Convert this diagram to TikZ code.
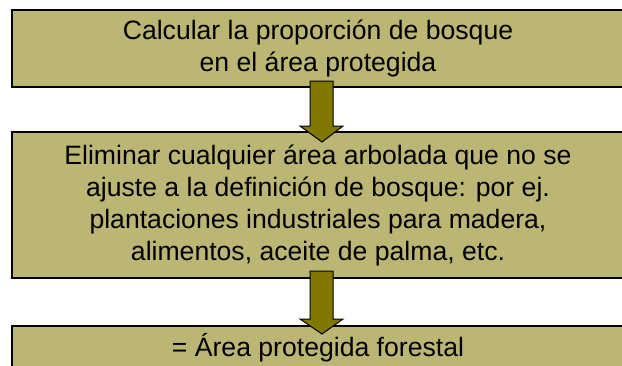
\documentclass[tikz,border=0pt]{standalone}
\usepackage{fontspec}
\setmainfont{Liberation Sans}
\usetikzlibrary{calc}
\definecolor{caja}{RGB}{187,182,115}
\definecolor{oliva}{RGB}{128,120,0}

\begin{document}
\begin{tikzpicture}[x=1pt,y=-1pt]
      \useasboundingbox (0,0) rectangle (622,365);
      \clip (0,0) rectangle (622,365);
      \begin{scope}[every node/.style={rectangle,draw,line width=2pt,fill=caja,minimum width=612,align=center,font=\fontsize{26.6}{32}\selectfont}]
        \node[minimum height=77] (calc) at (318,48.5) {Calcular la proporción de bosque\\en el área protegida};
        \node[minimum height=146] (elim) at (318,205) {Eliminar cualquier área arbolada que no se\\ajuste a la definición de bosque: por ej.\\plantaciones industriales para madera,\\alimentos, aceite de palma, etc.};
        \node[minimum height=44] (area) at (318,348) {= Área protegida forestal};
      \end{scope}
      \begin{scope}[every path/.style={draw=black,fill=oliva,line width=1pt,line join=miter}]
        \path ($(calc.south)+(-8,-7)$) -- ($(elim.north)+(-8,-5)$) -- ($(elim.north)+(-18,-5)$) -- ($(elim.north)+(4,11)$) -- ($(elim.north)+(25,-5)$) -- ($(elim.north)+(15,-5)$) -- ($(calc.south)+(15,-7)$) -- cycle;
        \path ($(elim.south)+(-8,-8)$) -- ($(area.north)+(-8,-6)$) -- ($(area.north)+(-18,-6)$) -- ($(area.north)+(4,9)$) -- ($(area.north)+(25,-6)$) -- ($(area.north)+(15,-6)$) -- ($(elim.south)+(15,-8)$) -- cycle;
      \end{scope}
    \end{tikzpicture}
\end{document}
